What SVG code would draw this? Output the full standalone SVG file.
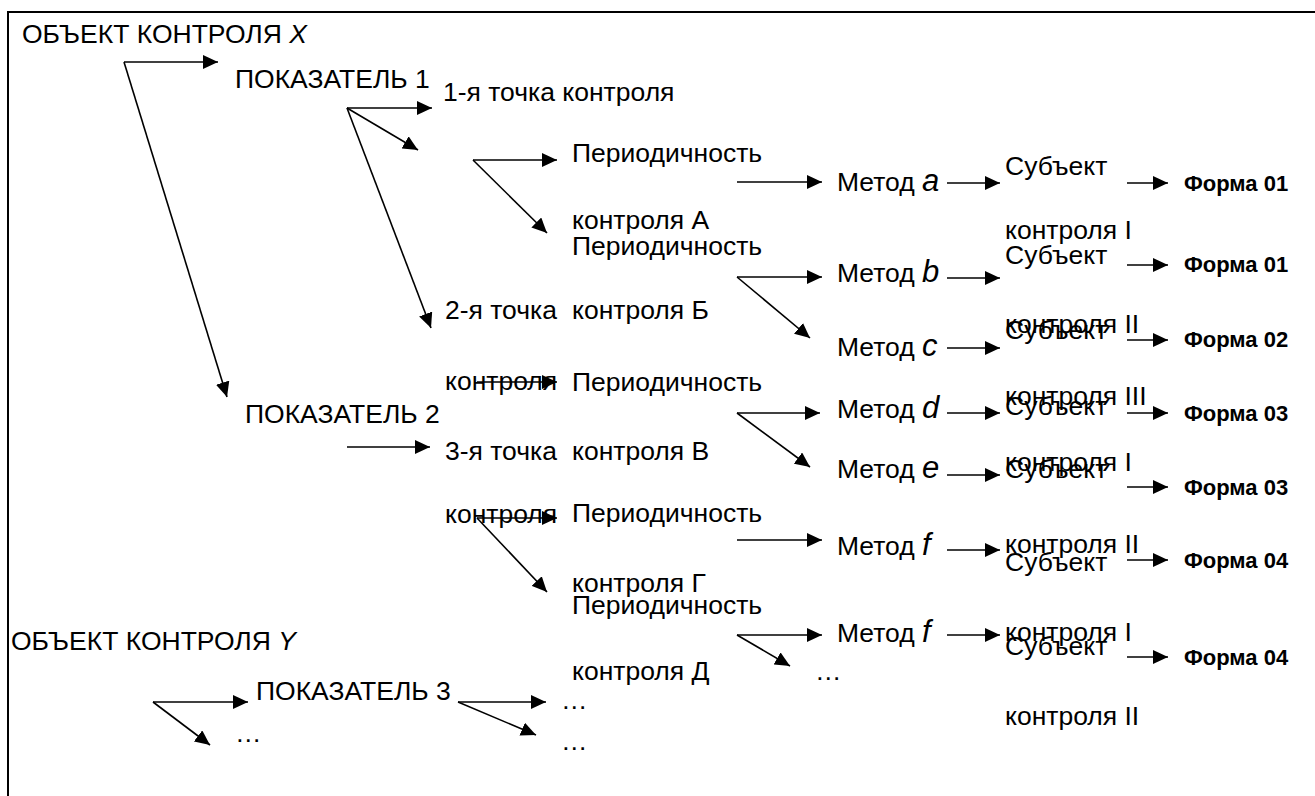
<svg xmlns="http://www.w3.org/2000/svg" width="1315" height="796" viewBox="0 0 1315 796">
<style>
.t{font-family:"Liberation Sans",Arial,sans-serif;font-size:26.5px;fill:#000}
.i{font-style:italic;font-size:31px}
.b{font-family:"Liberation Sans",Arial,sans-serif;font-size:22px;font-weight:bold;fill:#000}
.c line{stroke:#000;stroke-width:1.6;marker-end:url(#ah)}
</style>
<defs>
<marker id="ah" markerWidth="15" markerHeight="14" refX="15" refY="7" orient="auto" markerUnits="userSpaceOnUse"><path d="M0,0 L15,7 L0,14 z" fill="#000"/></marker>
</defs>
<rect width="1315" height="796" fill="#fff"/>
<g id="frame" stroke="#000" stroke-width="2" fill="none"><path d="M8,796 V12 H1315"/></g>
<g id="connectors" class="c">
<line x1="124" y1="62" x2="218" y2="62"/>
<line x1="124" y1="62" x2="227" y2="397"/>
<line x1="347" y1="108" x2="432" y2="108"/>
<line x1="347" y1="108" x2="418" y2="150"/>
<line x1="347" y1="108" x2="431" y2="328"/>
<line x1="473" y1="160" x2="557" y2="160"/>
<line x1="473" y1="160" x2="547" y2="233"/>
<line x1="737" y1="182" x2="822" y2="182"/>
<line x1="737" y1="277" x2="822" y2="277"/>
<line x1="737" y1="277" x2="810" y2="338"/>
<line x1="347" y1="447" x2="430" y2="447"/>
<line x1="477" y1="382" x2="557" y2="382"/>
<line x1="737" y1="413" x2="820" y2="413"/>
<line x1="737" y1="413" x2="810" y2="467"/>
<line x1="477" y1="518" x2="557" y2="518"/>
<line x1="477" y1="518" x2="547" y2="592"/>
<line x1="737" y1="540" x2="822" y2="540"/>
<line x1="737" y1="635" x2="822" y2="635"/>
<line x1="737" y1="635" x2="790" y2="666"/>
<line x1="947" y1="183" x2="1000" y2="183"/>
<line x1="947" y1="278" x2="1000" y2="278"/>
<line x1="947" y1="348" x2="1000" y2="348"/>
<line x1="947" y1="413" x2="1000" y2="413"/>
<line x1="947" y1="475" x2="1000" y2="475"/>
<line x1="947" y1="550" x2="1000" y2="550"/>
<line x1="947" y1="635" x2="1000" y2="635"/>
<line x1="1127" y1="183" x2="1168" y2="183"/>
<line x1="1127" y1="265" x2="1168" y2="265"/>
<line x1="1127" y1="340" x2="1168" y2="340"/>
<line x1="1127" y1="413" x2="1168" y2="413"/>
<line x1="1127" y1="487" x2="1168" y2="487"/>
<line x1="1127" y1="560" x2="1168" y2="560"/>
<line x1="1127" y1="657" x2="1168" y2="657"/>
<line x1="153" y1="702" x2="248" y2="702"/>
<line x1="153" y1="702" x2="210" y2="745"/>
<line x1="458" y1="702" x2="546" y2="702"/>
<line x1="458" y1="702" x2="536" y2="735"/>
</g>
<g id="objX"><text class="t" x="22" y="43">ОБЪЕКТ КОНТРОЛЯ <tspan font-style="italic">X</tspan></text></g>
<g id="pok1"><text class="t" x="235" y="88">ПОКАЗАТЕЛЬ 1</text></g>
<g id="pt1"><text class="t" x="443" y="101">1-я точка контроля</text></g>
<g id="perA"><text class="t" x="572" y="162">Периодичность</text><text class="t" x="572" y="229">контроля А</text></g>
<g id="perB"><text class="t" x="572" y="255">Периодичность</text><text class="t" x="572" y="319">контроля Б</text></g>
<g id="pt2"><text class="t" x="445" y="319">2-я точка</text><text class="t" x="445" y="390">контроля</text></g>
<g id="perV"><text class="t" x="572" y="391">Периодичность</text><text class="t" x="572" y="460">контроля В</text></g>
<g id="pok2"><text class="t" x="245" y="423">ПОКАЗАТЕЛЬ 2</text></g>
<g id="pt3"><text class="t" x="445" y="460">3-я точка</text><text class="t" x="445" y="523">контроля</text></g>
<g id="perG"><text class="t" x="572" y="522">Периодичность</text><text class="t" x="572" y="592">контроля Г</text></g>
<g id="perD"><text class="t" x="572" y="614">Периодичность</text><text class="t" x="572" y="680">контроля Д</text></g>
<g id="dots1"><text class="t" x="815" y="680">…</text></g>
<g id="metA"><text class="t" x="837" y="191">Метод <tspan class="i">a</tspan></text></g>
<g id="metB"><text class="t" x="837" y="282">Метод <tspan class="i">b</tspan></text></g>
<g id="metC"><text class="t" x="837" y="356">Метод <tspan class="i">c</tspan></text></g>
<g id="metD"><text class="t" x="837" y="418">Метод <tspan class="i">d</tspan></text></g>
<g id="metE"><text class="t" x="837" y="478">Метод <tspan class="i">e</tspan></text></g>
<g id="metF"><text class="t" x="837" y="555">Метод <tspan class="i">f</tspan></text></g>
<g id="metF2"><text class="t" x="837" y="642">Метод <tspan class="i">f</tspan></text></g>
<g id="sub1"><text class="t" x="1005" y="175">Субъект</text><text class="t" x="1005" y="239">контроля I</text></g>
<g id="sub2"><text class="t" x="1005" y="264">Субъект</text><text class="t" x="1005" y="333">контроля II</text></g>
<g id="sub3"><text class="t" x="1005" y="339">Субъект</text><text class="t" x="1005" y="405">контроля III</text></g>
<g id="sub4"><text class="t" x="1005" y="415">Субъект</text><text class="t" x="1005" y="471">контроля I</text></g>
<g id="sub5"><text class="t" x="1005" y="478">Субъект</text><text class="t" x="1005" y="553">контроля II</text></g>
<g id="sub6"><text class="t" x="1005" y="571">Субъект</text><text class="t" x="1005" y="641">контроля I</text></g>
<g id="sub7"><text class="t" x="1005" y="655">Субъект</text><text class="t" x="1005" y="725">контроля II</text></g>
<g id="f1"><text class="b" x="1184" y="191">Форма 01</text></g>
<g id="f2"><text class="b" x="1184" y="272">Форма 01</text></g>
<g id="f3"><text class="b" x="1184" y="347">Форма 02</text></g>
<g id="f4"><text class="b" x="1184" y="421">Форма 03</text></g>
<g id="f5"><text class="b" x="1184" y="495">Форма 03</text></g>
<g id="f6"><text class="b" x="1184" y="568">Форма 04</text></g>
<g id="f7"><text class="b" x="1184" y="665">Форма 04</text></g>
<g id="objY"><text class="t" x="11" y="650">ОБЪЕКТ КОНТРОЛЯ <tspan font-style="italic">Y</tspan></text></g>
<g id="pok3"><text class="t" x="256" y="700">ПОКАЗАТЕЛЬ 3</text></g>
<g id="dots2"><text class="t" x="235" y="742">…</text></g>
<g id="dots3"><text class="t" x="561" y="709">…</text></g>
<g id="dots4"><text class="t" x="561" y="750">…</text></g>
</svg>
